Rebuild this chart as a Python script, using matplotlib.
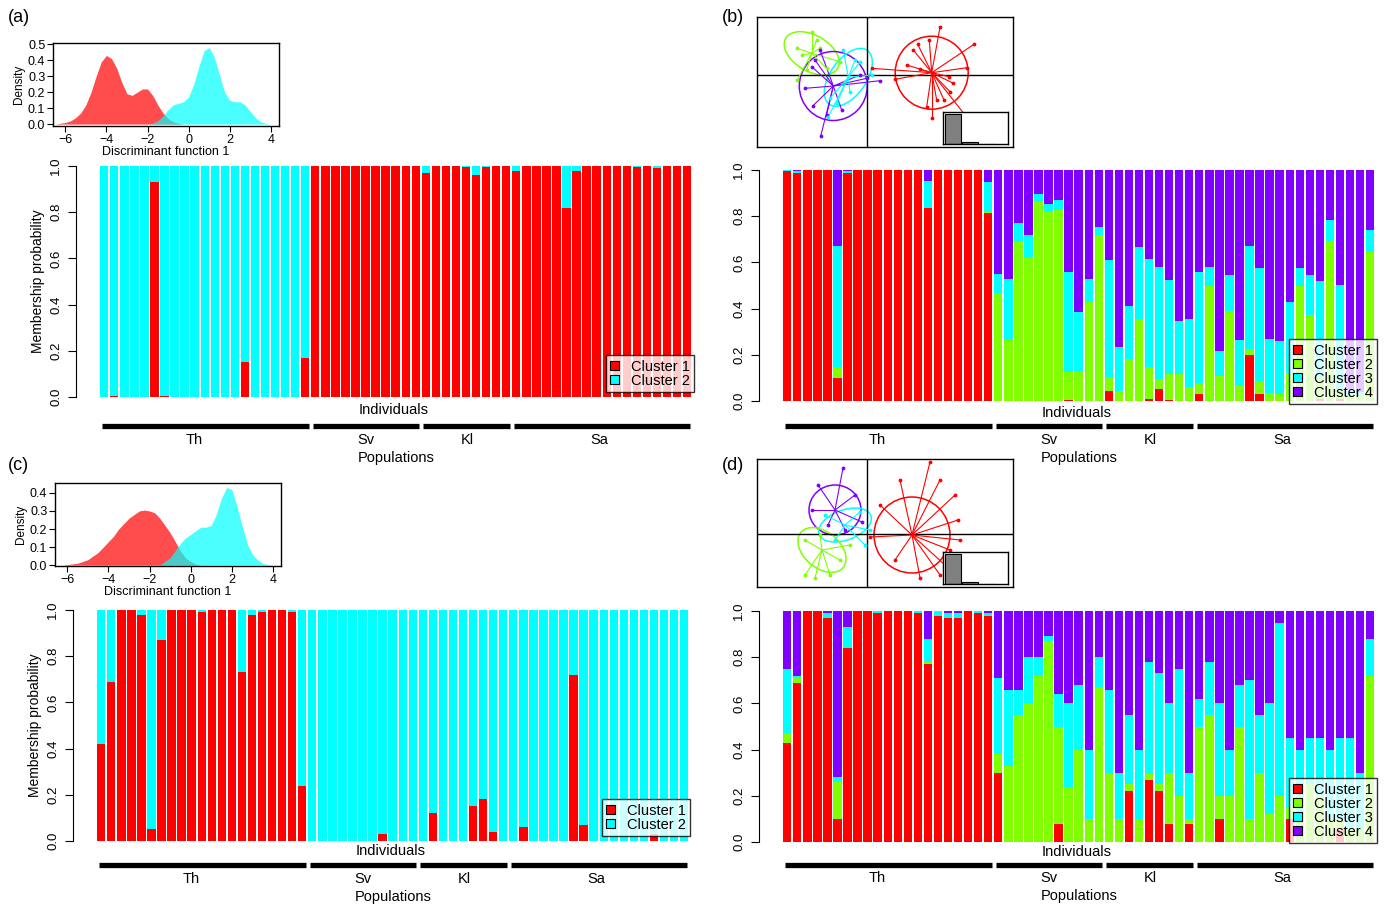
import numpy as np
import matplotlib.pyplot as plt
from matplotlib.patches import Ellipse, Patch

plt.rcParams['font.family'] = ['Liberation Sans', 'DejaVu Sans']

W, H = 1387, 906
RED = '#FF0000'
GREEN = '#80FF00'
CYAN = '#00FFFF'
PURPLE = '#8000FF'

populations = ['Th', 'Sv', 'Kl', 'Sa']
pop_sizes = [21, 11, 9, 18]
pop_label_shift = [-1.1, 0.0, 0.0, -0.3]

# (a) K=2, membership to cluster 1 (rest is cluster 2)
a_cluster1 = [0, 0.005, 0, 0, 0, 0.93, 0.005, 0, 0, 0, 0, 0, 0.002, 0, 0.15, 0, 0, 0, 0, 0, 0.17,
              1, 1, 1, 1, 1, 1, 1, 1, 1, 0.998, 1,
              0.97, 1, 1, 1, 0.995, 0.96, 0.997, 1, 1,
              0.98, 1, 1, 1, 1, 0.82, 0.98, 1, 1, 1, 1, 1, 0.995, 1, 0.99, 1, 1, 1]

# (c) K=2, membership to cluster 1
c_cluster1 = [0.42, 0.69, 1, 1, 0.98, 0.05, 0.87, 1, 1, 1, 0.99, 1, 1, 1, 0.73, 0.98, 0.99, 1, 1, 0.99, 0.24,
              0, 0, 0, 0, 0, 0, 0, 0.03, 0, 0, 0,
              0, 0.12, 0, 0, 0, 0.15, 0.18, 0.04, 0,
              0, 0.06, 0, 0, 0, 0, 0.72, 0.07, 0, 0, 0, 0, 0, 0, 0.03, 0, 0, 0]

# (b) K=4, cumulative membership tops (cluster1, +cluster2, +cluster3); cluster4 fills to 1
b_top1 = [0.995, 0.985, 1, 1, 1, 0.10, 0.985, 1, 1, 1, 1, 1, 0.998, 1, 0.837, 1, 1, 1, 1, 1, 0.813,
          0, 0, 0, 0, 0, 0, 0, 0.005, 0, 0, 0,
          0.043, 0, 0, 0, 0.01, 0.05, 0.006, 0, 0,
          0.032, 0, 0, 0, 0, 0.20, 0.029, 0, 0, 0, 0, 0, 0.01, 0, 0.01, 0, 0, 0]
b_top2 = [0.995, 0.985, 1, 1, 1, 0.148, 0.985, 1, 1, 1, 1, 1, 0.998, 1, 0.837, 1, 1, 1, 1, 1, 0.817,
          0.468, 0.266, 0.69, 0.62, 0.86, 0.817, 0.827, 0.125, 0.13, 0.427, 0.72,
          0.105, 0.043, 0.183, 0.353, 0.147, 0.096, 0.115, 0.115, 0.062,
          0.076, 0.496, 0.11, 0.39, 0.069, 0.226, 0.086, 0.036, 0.032, 0.12, 0.5, 0.374, 0.1, 0.694, 0.05, 0.02, 0.02, 0.645]
b_top3 = [1, 0.995, 1, 1, 1, 0.672, 0.995, 1, 1, 1, 1, 1, 1, 1, 0.953, 1, 1, 1, 1, 1, 0.95,
          0.55, 0.53, 0.77, 0.72, 0.895, 0.853, 0.868, 0.56, 0.387, 0.53, 0.755,
          0.61, 0.233, 0.41, 0.666, 0.614, 0.58, 0.522, 0.345, 0.357,
          0.56, 0.58, 0.216, 0.547, 0.266, 0.669, 0.576, 0.27, 0.26, 0.427, 0.574, 0.547, 0.518, 0.784, 0.504, 0.05, 0.04, 0.74]

# (d) K=4, cumulative membership tops
d_top1 = [0.43, 0.69, 1, 1, 0.97, 0.10, 0.84, 1, 1, 0.99, 1, 1, 1, 0.99, 0.77, 0.98, 0.97, 0.97, 1, 0.99, 0.98,
          0.30, 0, 0, 0, 0, 0, 0.08, 0, 0, 0, 0,
          0, 0, 0.22, 0, 0.27, 0.22, 0.08, 0, 0.08,
          0, 0, 0.1, 0, 0, 0, 0, 0, 0, 0.1, 0, 0, 0, 0, 0.05, 0, 0, 0]
d_top2 = [0.47, 0.71, 1, 1, 0.97, 0.26, 0.84, 1, 1, 0.99, 1, 1, 1, 0.99, 0.78, 0.98, 0.97, 0.97, 1, 0.99, 0.98,
          0.38, 0.33, 0.55, 0.6, 0.72, 0.87, 0.5, 0.24, 0.4, 0.1, 0.67,
          0.3, 0.1, 0.25, 0.1, 0.3, 0.25, 0.3, 0.2, 0.1,
          0.5, 0.55, 0.2, 0.2, 0.5, 0.1, 0.3, 0.12, 0.2, 0.15, 0.1, 0.25, 0.2, 0.1, 0.1, 0.05, 0.05, 0.72]
d_top3 = [0.75, 0.72, 1, 1, 0.99, 0.28, 0.93, 1, 1, 1, 1, 1, 1, 1, 0.88, 1, 0.99, 0.99, 1, 1, 0.99,
          0.71, 0.66, 0.66, 0.8, 0.8, 0.89, 0.64, 0.6, 0.68, 0.4, 0.8,
          0.66, 0.3, 0.55, 0.4, 0.78, 0.73, 0.6, 0.75, 0.3,
          0.62, 0.78, 0.6, 0.4, 0.68, 0.7, 0.55, 0.6, 0.95, 0.45, 0.4, 0.45, 0.45, 0.4, 0.45, 0.45, 0.3, 0.88]

# density curves of discriminant function 1
a_red_x = [-6.5, -6.25, -6.0, -5.75, -5.5, -5.25, -5.0, -4.75, -4.5, -4.25, -4.0, -3.75, -3.5, -3.25, -3.0,
           -2.75, -2.5, -2.25, -2.0, -1.75, -1.5, -1.25, -1.0, -0.75, -0.5, -0.25]
a_red_y = [0, 0.005, 0.01, 0.02, 0.04, 0.07, 0.12, 0.2, 0.3, 0.39, 0.43, 0.41, 0.35, 0.26, 0.19,
           0.18, 0.2, 0.22, 0.22, 0.18, 0.12, 0.07, 0.035, 0.015, 0.005, 0]
a_cyan_x = [-2.0, -1.75, -1.5, -1.25, -1.0, -0.75, -0.5, -0.25, 0, 0.25, 0.5, 0.75, 1.0, 1.25, 1.5,
            1.75, 2.0, 2.25, 2.5, 2.75, 3.0, 3.25, 3.5, 3.75, 4.0]
a_cyan_y = [0, 0.005, 0.02, 0.05, 0.09, 0.12, 0.13, 0.14, 0.17, 0.25, 0.36, 0.46, 0.48, 0.42, 0.31,
            0.2, 0.15, 0.14, 0.14, 0.12, 0.08, 0.04, 0.015, 0.005, 0]
c_red_x = [-6.25, -6.0, -5.5, -5.0, -4.75, -4.5, -4.25, -4.0, -3.75, -3.5, -3.25, -3.0, -2.75, -2.5,
           -2.25, -2.0, -1.75, -1.5, -1.25, -1.0, -0.75, -0.5, -0.25, 0, 0.25, 0.5]
c_red_y = [0, 0.003, 0.01, 0.03, 0.05, 0.07, 0.1, 0.13, 0.16, 0.2, 0.23, 0.26, 0.28, 0.3,
           0.305, 0.3, 0.29, 0.26, 0.22, 0.18, 0.13, 0.08, 0.04, 0.02, 0.005, 0]
c_cyan_x = [-1.5, -1.25, -1.0, -0.75, -0.5, -0.25, 0, 0.25, 0.5, 0.75, 1.0, 1.25, 1.5, 1.75, 2.0,
            2.25, 2.5, 2.75, 3.0, 3.25, 3.5, 3.75, 4.0]
c_cyan_y = [0, 0.02, 0.04, 0.08, 0.12, 0.15, 0.17, 0.19, 0.21, 0.21, 0.22, 0.28, 0.37, 0.43, 0.42,
            0.33, 0.22, 0.12, 0.06, 0.03, 0.01, 0.003, 0]

# DAPC scatter (inset of b, d): individual coordinates on DA1/DA2 per cluster
b_points = {
    RED: [(7.3, 4.77), (6.23, 3.5), (5.07, 3.07), (10.7, 3.07), (10.0, 0.73), (8.23, -0.17), (5.3, 0.57),
          (2.8, -0.43), (0.47, 0.67), (5.97, -3.17), (6.47, -4.33), (7.7, -2.5), (8.3, -1.67), (9.8, -4.0),
          (3.97, 1.0), (4.63, 2.5), (8.63, -0.83), (6.97, -2.5)],
    GREEN: [(-5.53, 4.33), (-7.03, 2.67), (-6.53, 2.0), (-4.7, 2.67), (-6.97, -0.5), (-4.03, 0.67),
            (-2.7, 1.33), (-5.03, 3.5), (-6.03, 0.5)],
    PURPLE: [(-5.53, 0.83), (-5.43, -3.1), (-4.03, -4.0), (-2.53, -3.5), (-4.63, -6.1), (-0.03, -0.33),
             (1.3, -0.57), (-5.2, 1.5), (-0.7, 0.0), (-6.2, -1.33), (-4.7, 2.5)],
    CYAN: [(-2.37, 2.5), (-0.7, 1.33), (0.47, 0.0), (-3.7, -2.33), (-3.87, -4.17), (-1.7, -1.67),
           (-1.2, 1.5), (-3.03, -2.83)],
}
b_ellipses = {RED: (6.47, 0.23, 7.3, 7.3, 0), GREEN: (-5.53, 2.17, 6.0, 3.6, -30),
              PURPLE: (-3.37, -1.1, 6.8, 6.9, 0), CYAN: (-1.87, -0.23, 6.6, 3.6, 55)}

d_points = {
    RED: [(6.3, 7.2), (7.3, 5.4), (8.8, 3.9), (9.1, 1.4), (8.3, -1.6), (7.3, -4.1), (5.3, -4.4), (2.8, -2.6),
          (0.3, -0.3), (1.3, 2.9), (3.3, 5.4), (7.8, -3.1), (9.3, -0.6)],
    PURPLE: [(-2.4, 6.6), (-4.9, 4.9), (-5.5, 2.4), (-1.2, 3.9), (-0.5, 1.2), (-2.2, 0.4), (-3.9, 0.9)],
    CYAN: [(-4.2, 1.9), (0.3, 0.4), (-0.2, -1.1), (-3.2, -0.6), (-0.7, 2.2)],
    GREEN: [(-6.2, -4.1), (-5.2, -4.4), (-3.7, -4.1), (-2.7, -2.6), (-6.2, -0.6), (-4.7, -0.1), (-1.7, -1.1)],
}
d_ellipses = {RED: (4.5, -0.1, 7.6, 7.6, 0), PURPLE: (-3.2, 2.4, 5.2, 5.0, 0),
              CYAN: (-2.2, 0.9, 5.5, 3.0, 20), GREEN: (-4.5, -1.6, 5.5, 3.6, -40)}

eig_values = [1.0, 0.06, 0.01]

fig = plt.figure(figsize=(W / 100, H / 100), dpi=100)


def px_axes(x0, y0, x1, y1):
    return fig.add_axes([x0 / W, 1 - y1 / H, (x1 - x0) / W, (y1 - y0) / H])


BW = 10.05   # px per bar
UNIT = 231   # px per probability unit


def membership_panel(xb, y0, tops, colors, legend_pos, text_off, ylabel=True):
    n = len(tops[0])
    pad_x = 0.04 * n
    ax = px_axes(xb - pad_x * BW, y0 - 1.04 * UNIT, xb + (n + pad_x) * BW, y0 + 0.04 * UNIT)
    ax.set_xlim(-pad_x, n + pad_x)
    ax.set_ylim(-0.04, 1.04)
    idx = np.arange(n)
    bounds = [np.zeros(n)] + [np.array(t, float) for t in tops] + [np.ones(n)]
    for k, col in enumerate(colors):
        ax.bar(idx, bounds[k + 1] - bounds[k], bottom=bounds[k], width=0.84, align='edge',
               color=col, edgecolor='none')
    for s in ['top', 'right', 'bottom']:
        ax.spines[s].set_visible(False)
    ax.spines['left'].set_bounds(0, 1)
    ax.spines['left'].set_linewidth(0.8)
    ax.set_xticks([])
    ax.set_yticks(np.arange(0, 1.01, 0.2))
    ax.set_yticklabels(['0.0', '0.2', '0.4', '0.6', '0.8', '1.0'], rotation=90, va='center', fontsize=9.5)
    ax.tick_params(axis='y', length=6, width=0.8, pad=4)
    if ylabel:
        ax.set_ylabel('Membership probability', fontsize=10, labelpad=4)
    ind_y, line_y, lab_y, pop_y = [-o / UNIT for o in text_off]
    ax.text(n / 2 - 0.3, ind_y, 'Individuals', ha='center', va='center', fontsize=10.5)
    start = 0
    for name, size, sh in zip(populations, pop_sizes, pop_label_shift):
        ax.plot([start + 0.15, start + size - 0.25], [line_y, line_y], color='black', lw=3.8,
                solid_capstyle='butt', clip_on=False)
        ax.text(start + size / 2 + sh, lab_y, name, ha='center', va='center', fontsize=10.5)
        start += size
    ax.text(n / 2, pop_y, 'Populations', ha='center', va='center', fontsize=10.5)
    handles = [Patch(facecolor=c, edgecolor='black', linewidth=0.8) for c in colors]
    labels = ['Cluster %d' % (i + 1) for i in range(len(colors))]
    leg = fig.legend(handles, labels, loc='lower right', bbox_to_anchor=(legend_pos[0] / W, 1 - legend_pos[1] / H),
                     fontsize=10.5, frameon=True, fancybox=False, handlelength=0.6, handleheight=0.6,
                     handletextpad=0.8, borderpad=0.3, labelspacing=0.0, borderaxespad=0)
    leg.get_frame().set_edgecolor('black')
    leg.get_frame().set_linewidth(1.0)
    leg.get_frame().set_facecolor((1, 1, 1, 0.45))
    return ax


def density_inset(box, curves, yticks, ylim):
    ax = px_axes(*box)
    for xs, ys, col in curves:
        ax.fill_between(xs, 0, ys, color=col, alpha=0.7, lw=0)
    ax.set_xlim(-6.6, 4.4)
    ax.set_ylim(*ylim)
    ax.set_xticks(np.arange(-6, 5, 2))
    ax.set_xticklabels(['\u22126', '\u22124', '\u22122', '0', '2', '4'])
    ax.set_yticks(yticks)
    ax.set_yticklabels(['%.1f' % t for t in yticks])
    ax.tick_params(labelsize=9, length=4, width=0.8, pad=1.5)
    ax.set_xlabel('Discriminant function 1', fontsize=9, labelpad=0)
    ax.set_ylabel('Density', fontsize=8.5, labelpad=2)
    for s in ax.spines.values():
        s.set_linewidth(1.0)
    return ax


def scatter_inset(box, cross, points, ellipses):
    ax = px_axes(*box)
    x0, y0, x1, y1 = box
    cx, cy = cross
    ax.set_xlim((x0 - cx) / 10, (x1 - cx) / 10)
    ax.set_ylim((cy - y1) / 10, (cy - y0) / 10)
    ax.axhline(0, color='black', lw=1.0)
    ax.axvline(0, color='black', lw=1.0)
    for col, pts in points.items():
        ex, ey, ew, eh, ang = ellipses[col]
        for px, py in pts:
            ax.plot([ex, px], [ey, py], color=col, lw=0.8)
        ax.scatter([p[0] for p in pts], [p[1] for p in pts], s=3, color=col, zorder=3)
        ax.add_patch(Ellipse((ex, ey), ew, eh, angle=ang, fill=False, edgecolor=col, lw=1.1))
    ax.set_xticks([])
    ax.set_yticks([])
    for s in ax.spines.values():
        s.set_linewidth(1.0)
    # eigenvalue bar inset
    eax = px_axes(x1 - 70, y1 - 35, x1 - 5, y1 - 3)
    eax.bar(np.arange(len(eig_values)), eig_values, width=0.9, align='edge', color='grey', edgecolor='black', lw=0.8)
    eax.set_xlim(-0.1, 3.6)
    eax.set_ylim(0, 1.07)
    eax.set_xticks([])
    eax.set_yticks([])
    for s in eax.spines.values():
        s.set_linewidth(1.0)
    return ax


density_inset((53, 43, 279, 126), [(a_red_x, a_red_y, RED), (a_cyan_x, a_cyan_y, CYAN)],
              [0, 0.1, 0.2, 0.3, 0.4, 0.5], (-0.012, 0.508))
density_inset((55, 483, 281, 566), [(c_red_x, c_red_y, RED), (c_cyan_x, c_cyan_y, CYAN)],
              [0, 0.1, 0.2, 0.3, 0.4], (-0.005, 0.455))
scatter_inset((757, 17, 1013, 147), (867, 75), b_points, b_ellipses)
scatter_inset((757, 459, 1013, 587), (867, 534), d_points, d_ellipses)

membership_panel(100, 397, [a_cluster1], [RED, CYAN], (694, 392), (13, 29, 43, 61))
membership_panel(783, 401, [b_top1, b_top2, b_top3], [RED, GREEN, CYAN, PURPLE], (1377, 404),
                 (12, 25, 39, 57), ylabel=False)
membership_panel(97, 841, [c_cluster1], [RED, CYAN], (690, 836), (10, 24, 38, 56))
membership_panel(783, 842, [d_top1, d_top2, d_top3], [RED, GREEN, CYAN, PURPLE], (1377, 843),
                 (10, 23, 36, 54), ylabel=False)

for lab, x, y in [('(a)', 8, 18), ('(b)', 722, 18), ('(c)', 8, 466), ('(d)', 722, 466)]:
    fig.text(x / W, 1 - y / H, lab, fontsize=13, ha='left', va='center')

fig.savefig('out.png', dpi=100)
